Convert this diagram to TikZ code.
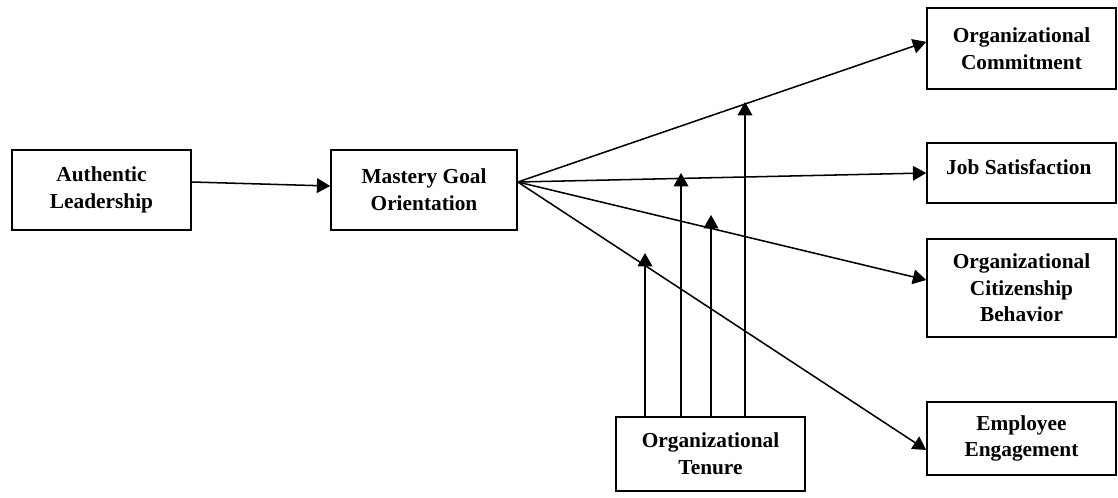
\documentclass[tikz,border=0pt]{standalone}
\usepackage{fontspec}
\setmainfont{Liberation Serif}
\usepackage{tikz}
\usetikzlibrary{arrows.meta}

\begin{document}
\begin{tikzpicture}[x=0.75pt, y=-0.75pt, line width=1.15pt,
    >={Triangle[length=10pt, width=11pt]},
    box/.style={rectangle, draw, align=center, minimum width=141.75pt,
        font=\bfseries\fontsize{16}{20}\selectfont}]
                        \useasboundingbox (0, 0) rectangle (1118, 497);

                        \node (al) at (101.5, 190) [box, minimum width=134.25pt, minimum height=60pt] {
                            Authentic\\Leadership
                        };

                        \node (mgo) at (424, 190) [box, minimum width=139.5pt, minimum height=60pt] {
                            Mastery Goal\\Orientation
                        };

                        \node (oc) at (1021.5, 48.5) [box, minimum height=60.75pt] {
                            Organizational\\Commitment
                        };

                        \node (js) at (1021.5, 173) [box, minimum height=45pt, inner sep=4pt,
                            text height=19.25pt, text depth=17.75pt] {
                            Job Satisfaction
                        };

                        \node (ocb) at (1021.5, 288) [box, minimum height=73.5pt] {
                            Organizational\\Citizenship\\Behavior
                        };

                        \node (ee) at (1021.5, 438.5) [box, minimum height=54.75pt] {
                            Employee\\Engagement
                        };

                        \node (ot) at (710.5, 454) [box, minimum height=55.5pt] {
                            Organizational\\Tenure
                        };

                        \draw[->] ([yshift=6pt]al.east) -- ([yshift=3pt]mgo.west);

                        \coordinate (src) at ([yshift=6pt]mgo.east);
                        \draw[->] (src) -- ([yshift=5pt]oc.west);
                        \draw[->] (src) -- (js.west);
                        \draw[->] (src) -- ([yshift=6pt]ocb.west);
                        \draw[->] (src) -- ([yshift=-8.6pt]ee.west);

                        \coordinate (m1) at (645, 253);
                        \coordinate (m2) at (681, 173);
                        \coordinate (m3) at (711, 215);
                        \coordinate (m4) at (745, 102);
                        \draw[->] (m1 |- ot.north) -- (m1);
                        \draw[->] (m2 |- ot.north) -- (m2);
                        \draw[->] (m3 |- ot.north) -- (m3);
                        \draw[->] (m4 |- ot.north) -- (m4);
                    \end{tikzpicture}
\end{document}
